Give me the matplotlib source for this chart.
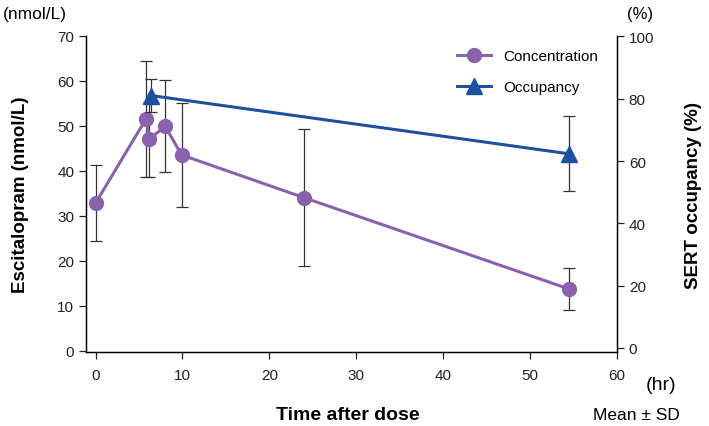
import matplotlib.pyplot as plt
from matplotlib.lines import Line2D

plt.rcParams['font.family'] = ['Liberation Sans', 'DejaVu Sans']

# Concentration data (nmol/L)
conc_time = [0, 5.8, 6.2, 8.0, 9.9, 24.0, 54.5]
conc_mean = [32.8, 51.5, 47.0, 49.9, 43.5, 34.0, 13.7]
conc_sd = [8.5, 12.8, 8.3, 10.2, 11.5, 15.2, 4.7]

# SERT occupancy data (%)
occ_time = [6.4, 54.5]
occ_mean = [81.0, 62.3]
occ_sd = [5.4, 12.0]

purple = '#8A62AC'
blue = '#1F4F9F'

fig = plt.figure(figsize=(7.09, 4.27), dpi=100)
ax = fig.add_axes([0.1213, 0.1726, 0.749, 0.7414])
ax2 = ax.twinx()

ax.errorbar(conc_time, conc_mean, yerr=conc_sd, fmt='none', ecolor='#333333',
            elinewidth=0.9, capsize=4, capthick=0.9, zorder=2)
ax.plot(conc_time, conc_mean, '-o', color=purple, lw=2.2, ms=10, zorder=3)

ax2.errorbar(occ_time, occ_mean, yerr=occ_sd, fmt='none', ecolor='#333333',
             elinewidth=0.9, capsize=4, capthick=0.9, zorder=2)
ax2.plot(occ_time, occ_mean, '-^', color=blue, lw=2.2, ms=11, zorder=3)

ax.set_xlim(-1.1, 60)
ax.set_ylim(-0.36, 70)
ax2.set_ylim(-1.38, 100.2)

ax.set_xticks(range(0, 61, 10))
ax.set_yticks(range(0, 71, 10))
ax2.set_yticks(range(0, 101, 20))

for a in (ax, ax2):
    a.spines['top'].set_visible(False)
    a.tick_params(labelsize=11, length=5, width=0.9, colors='#222222')
    for s in a.spines.values():
        s.set_linewidth(0.9)
ax.tick_params(axis='x', pad=6)
ax.spines['left'].set_bounds(-0.36, 70)
ax2.spines['right'].set_bounds(-1.38, 100)

ax.set_ylabel('Escitalopram (nmol/L)', fontsize=13.5, fontweight='bold', labelpad=20)
ax2.set_ylabel('SERT occupancy (%)', fontsize=13.5, fontweight='bold', labelpad=22)

fig.text(0.004, 0.965, '(nmol/L)', fontsize=12.5, va='center', ha='left')
fig.text(0.903, 0.965, '(%)', fontsize=12, va='center', ha='center')
fig.text(0.933, 0.098, '(hr)', fontsize=14, va='center', ha='center')
fig.text(0.49, 0.028, 'Time after dose', fontsize=14, fontweight='bold',
         va='center', ha='center')
fig.text(0.897, 0.028, 'Mean \u00b1 SD', fontsize=12.5, va='center', ha='center')

handles = [Line2D([], [], color=purple, marker='o', lw=2.2, ms=10),
           Line2D([], [], color=blue, marker='^', lw=2.2, ms=11)]
ax.legend(handles, ['Concentration', 'Occupancy'], loc='upper right',
          bbox_to_anchor=(0.99, 1.0), frameon=False, fontsize=11,
          handlelength=2.2, labelspacing=1.1)

plt.savefig('out.png', dpi=100)
